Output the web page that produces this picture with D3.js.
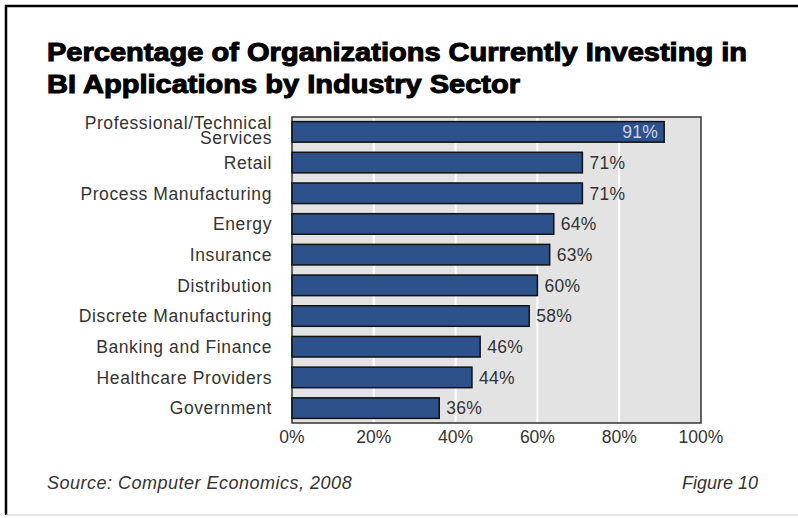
<!DOCTYPE html>
<html lang="en">
<head>
<meta charset="UTF-8">
<title>BI Applications by Industry Sector</title>
<script src="https://cdn.jsdelivr.net/npm/d3@7"></script>
<style>
  body { margin: 0; background: #fff; }
  text { font-family: "Liberation Sans", Arial, sans-serif; }
</style>
</head>
<body>
<script>
// data
var sectors = ["Professional/Technical Services", "Retail", "Process Manufacturing", "Energy",
  "Insurance", "Distribution", "Discrete Manufacturing", "Banking and Finance",
  "Healthcare Providers", "Government"];
var percents = [91, 71, 71, 64, 63, 60, 58, 46, 44, 36];
var ticks = [0, 20, 40, 60, 80, 100];
var titleLines = ["Percentage of Organizations Currently Investing in",
  "BI Applications by Industry Sector"];
var titleWidths = [700, 473];

var W = 798, H = 518;
var svg = d3.select("body").append("svg")
  .attr("width", W)
  .attr("height", H);

// outer frame
svg.append("line").attr("x1", 5).attr("x2", W).attr("y1", 6).attr("y2", 6)
  .attr("stroke", "#000").attr("stroke-width", 2.5);
svg.append("line").attr("x1", 6).attr("x2", 6).attr("y1", 5).attr("y2", 515)
  .attr("stroke", "#000").attr("stroke-width", 2.5);
svg.append("line").attr("x1", 6).attr("x2", W).attr("y1", 515).attr("y2", 515)
  .attr("stroke", "#ccc").attr("stroke-width", 1);

// title (heavy face, stretched to the original width)
svg.selectAll("text.title")
  .data(titleLines)
  .enter()
  .append("text")
  .attr("class", "title")
  .attr("x", 47)
  .attr("y", function(d, i) { return 61 + i * 32; })
  .attr("font-size", 25)
  .attr("font-weight", "bold")
  .attr("stroke", "#000")
  .attr("stroke-width", 1)
  .attr("fill", "#000")
  .attr("textLength", function(d, i) { return titleWidths[i]; })
  .attr("lengthAdjust", "spacingAndGlyphs")
  .text(function(d) { return d; });

var pLeft = 292, pRight = 701, pTop = 117, pBottom = 423;

var x = d3.scaleLinear().domain([0, 100]).range([pLeft, pRight]);
var y = d3.scaleBand().domain(sectors).range([pTop, pBottom])
  .paddingInner(0.33).paddingOuter(0.15);

// plot background
svg.append("rect")
  .attr("x", pLeft).attr("y", pTop)
  .attr("width", pRight - pLeft).attr("height", pBottom - pTop)
  .attr("fill", "#e3e3e3");

// gridlines
svg.selectAll("line.grid")
  .data(ticks.slice(1, -1))
  .enter()
  .append("line")
  .attr("class", "grid")
  .attr("x1", function(d) { return x(d); })
  .attr("x2", function(d) { return x(d); })
  .attr("y1", pTop).attr("y2", pBottom)
  .attr("stroke", "#fff").attr("stroke-width", 2);

svg.append("rect")
  .attr("x", pLeft).attr("y", pTop)
  .attr("width", pRight - pLeft).attr("height", pBottom - pTop)
  .attr("fill", "none")
  .attr("stroke", "#333").attr("stroke-width", 1.5);

// bars
svg.selectAll("rect.bar")
  .data(percents)
  .enter()
  .append("rect")
  .attr("class", "bar")
  .attr("x", x(0))
  .attr("y", function(d, i) { return y(sectors[i]); })
  .attr("width", function(d) { return x(d) - x(0); })
  .attr("height", y.bandwidth())
  .attr("fill", "#2d518b")
  .attr("stroke", "#111")
  .attr("stroke-width", 1.5);

// value labels
svg.selectAll("text.val")
  .data(percents)
  .enter()
  .append("text")
  .attr("class", "val")
  .attr("x", function(d) { return d > 85 ? x(d) - 6 : x(d) + 7; })
  .attr("y", function(d, i) { return y(sectors[i]) + y.bandwidth() / 2; })
  .attr("dy", "0.36em")
  .attr("text-anchor", function(d) { return d > 85 ? "end" : "start"; })
  .attr("font-size", 17.5)
  .attr("letter-spacing", 0.3)
  .attr("fill", function(d) { return d > 85 ? "#c9d4e8" : "#333"; })
  .text(function(d) { return d + "%"; });

// category labels
var cat = svg.selectAll("text.cat")
  .data(sectors)
  .enter()
  .append("text")
  .attr("class", "cat")
  .attr("x", 272)
  .attr("y", function(d) { return y(d) + y.bandwidth() / 2; })
  .attr("text-anchor", "end")
  .attr("font-size", 17.5)
  .attr("letter-spacing", 0.6)
  .attr("fill", "#333");

cat.each(function(d) {
  var t = d3.select(this);
  if (d === "Professional/Technical Services") {
    t.append("tspan").attr("x", 272).attr("dy", "-0.15em").text("Professional/Technical");
    t.append("tspan").attr("x", 272).attr("dy", "0.82em").text("Services");
  } else {
    t.attr("dy", "0.36em").text(d);
  }
});

// x axis tick labels
svg.selectAll("text.tick")
  .data(ticks)
  .enter()
  .append("text")
  .attr("class", "tick")
  .attr("x", function(d) { return x(d); })
  .attr("y", 443)
  .attr("text-anchor", "middle")
  .attr("font-size", 17.5)
  .attr("fill", "#333")
  .text(function(d) { return d + "%"; });

// footer
svg.append("text")
  .attr("x", 47).attr("y", 489)
  .attr("font-size", 18).attr("font-style", "italic").attr("fill", "#333")
  .attr("letter-spacing", 0.5)
  .text("Source: Computer Economics, 2008");

svg.append("text")
  .attr("x", 758).attr("y", 489)
  .attr("text-anchor", "end")
  .attr("font-size", 18).attr("font-style", "italic").attr("fill", "#333")
  .text("Figure 10");
</script>
</body>
</html>
